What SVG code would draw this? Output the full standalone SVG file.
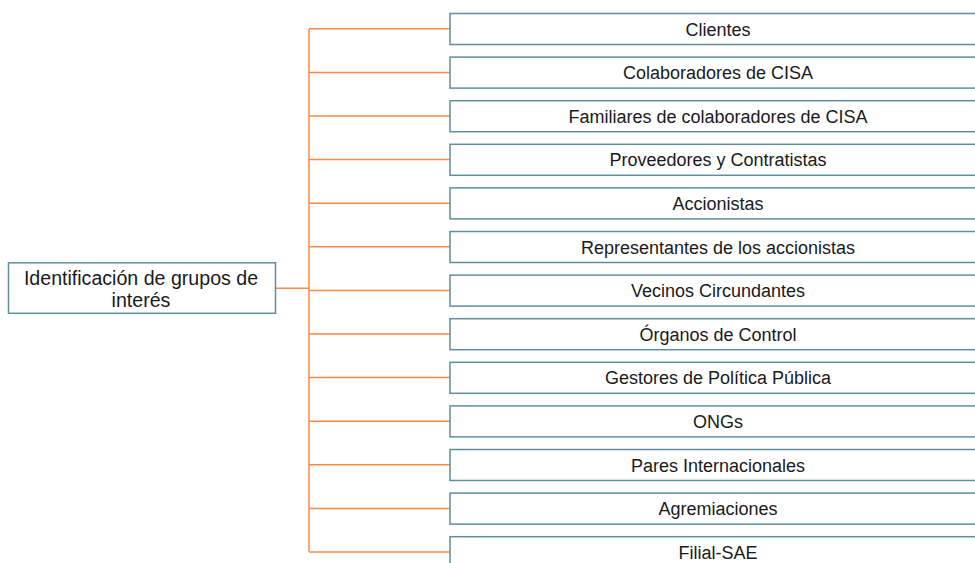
<svg xmlns="http://www.w3.org/2000/svg" width="975" height="563" viewBox="0 0 975 563">
<style>
.box{fill:#fff;stroke:#5e8f9b;stroke-width:1.5}
.t{font-family:"Liberation Sans",Arial,sans-serif;font-size:18px;fill:#1a1a1a;text-anchor:middle}
.r{font-size:19.6px}
.c{fill:none;stroke:#f58a45;stroke-width:1.5}
</style>
<rect width="975" height="563" fill="#fff"/>
<g id="connectors">
<path class="c" d="M276 288.3H309M309 29V551.7"/>
<path class="c" d="M309 28.8H450M309 72.4H450M309 116H450M309 159.6H450M309 203.2H450M309 246.8H450M309 290.4H450M309 334H450M309 377.6H450M309 421.2H450M309 464.8H450M309 508.4H450M309 552H450"/>
</g>
<g id="root"><rect class="box" x="8.5" y="262.8" width="267" height="50.5"/><text class="t r" x="141" y="284.5">Identificación de grupos de</text><text class="t r" x="141" y="306.5">interés</text></g>
<g id="n1"><rect class="box" x="450" y="13.5" width="530" height="31"/><text class="t" x="718" y="35.5">Clientes</text></g>
<g id="n2"><rect class="box" x="450" y="57.1" width="530" height="31"/><text class="t" x="718" y="79.1">Colaboradores de CISA</text></g>
<g id="n3"><rect class="box" x="450" y="100.7" width="530" height="31"/><text class="t" x="718" y="122.7">Familiares de colaboradores de CISA</text></g>
<g id="n4"><rect class="box" x="450" y="144.3" width="530" height="31"/><text class="t" x="718" y="166.3">Proveedores y Contratistas</text></g>
<g id="n5"><rect class="box" x="450" y="187.9" width="530" height="31"/><text class="t" x="718" y="209.9">Accionistas</text></g>
<g id="n6"><rect class="box" x="450" y="231.5" width="530" height="31"/><text class="t" x="718" y="253.5">Representantes de los accionistas</text></g>
<g id="n7"><rect class="box" x="450" y="275.1" width="530" height="31"/><text class="t" x="718" y="297.1">Vecinos Circundantes</text></g>
<g id="n8"><rect class="box" x="450" y="318.7" width="530" height="31"/><text class="t" x="718" y="340.7">Órganos de Control</text></g>
<g id="n9"><rect class="box" x="450" y="362.3" width="530" height="31"/><text class="t" x="718" y="384.3">Gestores de Política Pública</text></g>
<g id="n10"><rect class="box" x="450" y="405.9" width="530" height="31"/><text class="t" x="718" y="427.9">ONGs</text></g>
<g id="n11"><rect class="box" x="450" y="449.5" width="530" height="31"/><text class="t" x="718" y="471.5">Pares Internacionales</text></g>
<g id="n12"><rect class="box" x="450" y="493.1" width="530" height="31"/><text class="t" x="718" y="515.1">Agremiaciones</text></g>
<g id="n13"><rect class="box" x="450" y="536.7" width="530" height="31"/><text class="t" x="718" y="558.7">Filial-SAE</text></g>
</svg>
